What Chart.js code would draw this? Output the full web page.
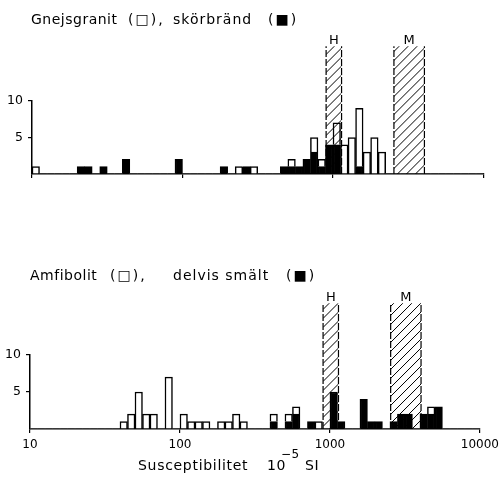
<!DOCTYPE html>
<html><head><meta charset="utf-8">
<script src="https://cdn.jsdelivr.net/npm/chart.js@4/dist/chart.umd.min.js"></script>
<style>
body{margin:0;background:#fff;width:504px;height:481px;overflow:hidden;position:relative;font-family:"DejaVu Sans",sans-serif;color:#000}
canvas{position:absolute;left:0;top:0}
.t{position:absolute;font-size:14px;line-height:14px;white-space:pre;letter-spacing:.5px}
.b{letter-spacing:2px}
</style></head><body>
<canvas id="top" width="504" height="481"></canvas>
<canvas id="bot" width="504" height="481"></canvas>

<div class="t" style="left:31px;top:12px">Gnejsgranit</div>
<div class="t b" style="left:128px;top:12px">(□),</div>
<div class="t" style="left:173px;top:12px;letter-spacing:1px">skörbränd</div>
<div class="t b" style="left:268px;top:12px">(■)</div>

<div class="t" style="left:30px;top:268px">Amfibolit</div>
<div class="t b" style="left:110px;top:268px">(□),</div>
<div class="t" style="left:173px;top:268px;letter-spacing:1px">delvis smält</div>
<div class="t b" style="left:286px;top:268px">(■)</div>

<div class="t" style="left:138px;top:458px;letter-spacing:.7px">Susceptibilitet</div>
<div class="t" style="left:267px;top:458px">10</div>
<div class="t" style="left:281px;top:447px;font-size:12px">−5</div>
<div class="t" style="left:305px;top:458px">SI</div>

<script>
// 20 log bins per decade, 10 .. 10000 (10^-5 SI)
const BINS_PER_DECADE = 20;
const bins = Array.from({length: 60}, (_, k) => (10 ** (1 + k / BINS_PER_DECADE)).toFixed(1));
const xTicks = [10, 100, 1000, 10000];

// Gnejsgranit (white) and skörbränd (black)
const gnejsWhite = [
  1,0,0,0,0,0,0,0,0,0, 0,0,0,0,0,0,0,0,0,0,
  0,0,0,0,0,0,0,1,0,1, 0,0,0,0,1,0,0,2,1,0,
  3,4,5,8,3,5,3,0,0,0, 0,0,0,0,0,0,0,0,0,0
];
const gnejsBlack = [
  0,0,0,0,0,0,1,1,0,1, 0,0,2,0,0,0,0,0,0,2,
  0,0,0,0,0,1,0,0,1,0, 0,0,0,1,1,1,2,3,1,4,
  4,0,0,1,0,0,0,0,0,0, 0,0,0,0,0,0,0,0,0,0
];

// Amfibolit (white) and delvis smält (black)
const amfWhite = [
  0,0,0,0,0,0,0,0,0,0, 0,0,1,2,5,2,2,0,7,0,
  2,1,1,1,0,1,1,2,1,0, 0,0,1,0,1,1,0,0,1,0,
  0,0,0,0,0,0,0,0,0,0, 0,0,0,1,0,0,0,0,0,0
];
const amfBlack = [
  0,0,0,0,0,0,0,0,0,0, 0,0,0,0,0,0,0,0,0,0,
  0,0,0,0,0,0,0,0,0,0, 0,0,1,0,1,2,0,1,0,0,
  5,1,0,0,4,1,1,0,1,2, 2,0,2,2,3,0,0,0,0,0
];

// hatched reference ranges
const bands = [
  {label: 'H', from: 900, to: 1140},
  {label: 'M', from: 2540, to: 4050}
];

const bandPlugin = {
  id: 'bands',
  afterDatasetsDraw(chart, args, opts) {
    const ctx = chart.ctx, xs = chart.scales.xl, ys = chart.scales.y;
    const yb = ys.getPixelForValue(0), yt = ys.getPixelForValue(opts.top);
    opts.items.forEach(b => {
      const x0 = xs.getPixelForValue(Math.log10(b.from));
      const x1 = xs.getPixelForValue(Math.log10(b.to));
      const w = x1 - x0;
      ctx.save();
      ctx.beginPath(); ctx.rect(x0, yt, w, yb - yt); ctx.clip();
      ctx.strokeStyle = '#000'; ctx.lineWidth = 1;
      ctx.beginPath();
      for (let y = yb + w; y > yt - 1; y -= 9) { ctx.moveTo(x0, y); ctx.lineTo(x1, y - w); }
      ctx.stroke();
      ctx.restore();
      ctx.save();
      ctx.strokeStyle = '#000'; ctx.lineWidth = 1.2; ctx.setLineDash([7, 2]);
      ctx.beginPath();
      ctx.moveTo(x0, yb); ctx.lineTo(x0, yt);
      ctx.moveTo(x1, yb); ctx.lineTo(x1, yt);
      ctx.stroke();
      ctx.setLineDash([]);
      ctx.fillStyle = '#000'; ctx.font = '13px "DejaVu Sans"';
      ctx.textAlign = 'center'; ctx.textBaseline = 'alphabetic';
      ctx.fillText(b.label, (x0 + x1) / 2, yt - 2);
      ctx.restore();
    });
  }
};

function makeHist(id, whiteData, blackData, area, showLabels, bandTop) {
  const bw = c => (c.raw ? 1.5 : 0);
  new Chart(document.getElementById(id), {
    type: 'bar',
    data: {
      labels: bins,
      datasets: [
        {data: blackData, backgroundColor: '#000', borderColor: '#000', borderWidth: bw,
         categoryPercentage: 1, barPercentage: 1},
        {data: whiteData, backgroundColor: '#fff', borderColor: '#000', borderWidth: bw,
         categoryPercentage: 1, barPercentage: 1}
      ]
    },
    options: {
      responsive: false, animation: false, devicePixelRatio: 1,
      layout: {padding: {left: 0, top: area.top, right: 504 - area.right, bottom: 481 - area.bottom - 22}},
      plugins: {legend: {display: false}, tooltip: {enabled: false},
        bands: {items: bands, top: bandTop}},
      scales: {
        x: {type: 'category', display: false, stacked: true},
        xl: {type: 'linear', axis: 'x', position: 'bottom', min: 1, max: 4, offset: false,
          afterFit: s => { s.height = 22; },
          afterBuildTicks: s => { s.ticks = xTicks.map(v => ({value: Math.log10(v)})); },
          grid: {drawOnChartArea: false, offset: false, color: '#000', tickLength: 4, lineWidth: 1.2},
          border: {color: '#000', width: 1.5},
          ticks: {display: showLabels, color: '#000', padding: 5, maxRotation: 0,
            font: {family: 'DejaVu Sans', size: 12},
            callback: v => String(Math.round(10 ** v))}
        },
        y: {stacked: true, min: 0, max: 10,
          afterFit: s => { s.width = area.left; },
          ticks: {stepSize: 5, color: '#000', padding: 5,
            font: {family: 'DejaVu Sans', size: 12.5},
            callback: v => (v === 0 ? '' : v)},
          grid: {drawOnChartArea: false, tickLength: 4, lineWidth: 1.2,
            color: c => (c.tick && c.tick.value === 0 ? 'rgba(0,0,0,0)' : '#000')},
          border: {color: '#000', width: 1.5}
        }
      }
    },
    plugins: [bandPlugin]
  });
}

makeHist('top', gnejsWhite, gnejsBlack, {left: 32, top: 101, right: 483.5, bottom: 174}, false, 17.5);
makeHist('bot', amfWhite, amfBlack, {left: 30, top: 355, right: 481.5, bottom: 429}, true, 17);
</script>
</body></html>
